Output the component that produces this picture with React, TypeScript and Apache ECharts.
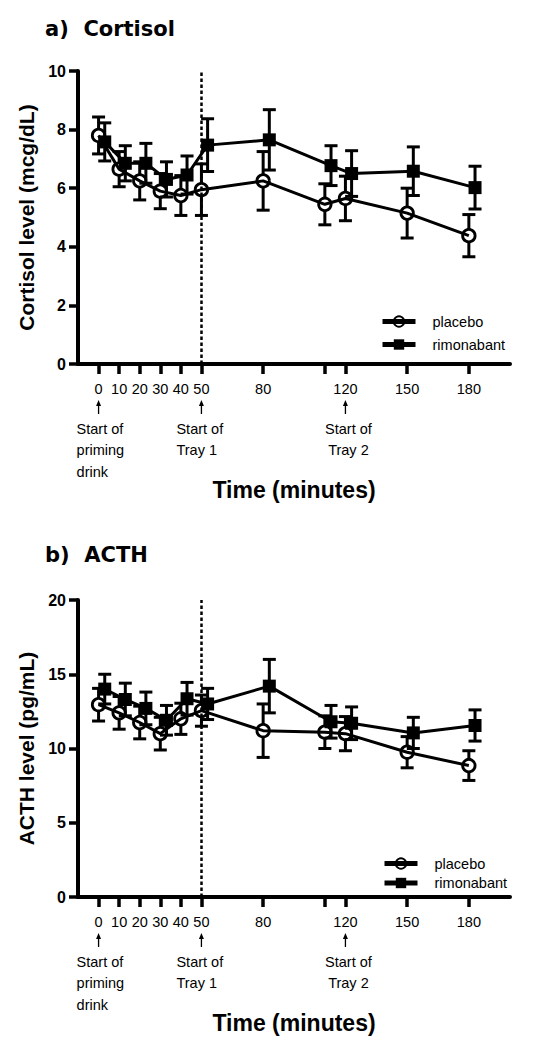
import React, { useEffect, useRef } from "react";
import * as echarts from "echarts";

// ---- data ----
const times = [0, 10, 20, 30, 40, 50, 80, 110, 120, 150, 180];
const tickTimes = [0, 10, 20, 30, 40, 50, 80, 110, 120, 150, 180];
const unlabeledTicks = [110];
const seriesNames = ["placebo", "rimonabant"];

const cortisolPlacebo = [7.8, 6.65, 6.25, 5.9, 5.75, 5.95, 6.25, 5.45, 5.65, 5.15, 4.38];
const cortisolPlaceboErr = [0.63, 0.6, 0.65, 0.6, 0.68, 0.88, 1.0, 0.7, 0.76, 0.85, 0.72];
const cortisolRimonabant = [7.58, 6.85, 6.85, 6.3, 6.45, 7.47, 7.65, 6.77, 6.5, 6.58, 6.02];
const cortisolRimonabantErr = [0.65, 0.6, 0.68, 0.6, 0.65, 0.9, 1.03, 0.68, 0.78, 0.83, 0.73];

const acthPlacebo = [12.95, 12.4, 11.75, 11.0, 12.0, 12.55, 11.2, 11.1, 11.0, 9.75, 8.85];
const acthPlaceboErr = [1.1, 1.1, 1.1, 1.1, 1.05, 1.05, 1.8, 1.1, 1.15, 1.05, 1.0];
const acthRimonabant = [14.0, 13.3, 12.7, 11.9, 13.35, 13.0, 14.2, 11.8, 11.7, 11.05, 11.55];
const acthRimonabantErr = [1.0, 1.1, 1.1, 1.0, 1.1, 1.05, 1.8, 1.1, 1.1, 1.05, 1.05];

const panelTitles = ["a)  Cortisol", "b)  ACTH"];
const yTitles = ["Cortisol level (mcg/dL)", "ACTH level (pg/mL)"];
const xTitle = "Time (minutes)";
const dividerTime = 50;
const events = [
  { time: 0, lines: ["Start of", "priming", "drink"], align: "left" },
  { time: 50, lines: ["Start of", "Tray 1"], align: "left" },
  { time: 120, lines: ["Start of", "Tray 2"], align: "center" },
];
// display offset (minutes) so overlapping groups can be seen, as in the figure
const groupOffset = [0, 3];

const FONT = '"Liberation Sans", Arial, Helvetica, sans-serif';
const TITLE_FONT = '"DejaVu Sans", "Liberation Sans", Arial, sans-serif';

export default function App() {
  const ref = useRef<HTMLDivElement>(null);

  useEffect(() => {
    if (!ref.current) return;
    const chart = echarts.init(ref.current, null, { renderer: "svg" });

    const panels = [
      {
        top: 71, height: 293, yMax: 10, yInterval: 2,
        groups: [
          { v: cortisolPlacebo, e: cortisolPlaceboErr },
          { v: cortisolRimonabant, e: cortisolRimonabantErr },
        ],
        legendTop: 314, legendGap: 8, legendLeft: 380,
      },
      {
        top: 600, height: 297, yMax: 20, yInterval: 5,
        groups: [
          { v: acthPlacebo, e: acthPlaceboErr },
          { v: acthRimonabant, e: acthRimonabantErr },
        ],
        legendTop: 856, legendGap: 4.5, legendLeft: 382,
      },
    ];

    const grids: any[] = [];
    const xAxes: any[] = [];
    const yAxes: any[] = [];
    const series: any[] = [];
    const legends: any[] = [];

    panels.forEach((p, pi) => {
      grids.push({ left: 78, top: p.top, width: 432, height: p.height });
      xAxes.push({
        type: "value", gridIndex: pi, min: -10, max: 200,
        axisLine: { show: true, onZero: false, lineStyle: { color: "#000", width: 4 } },
        axisTick: { show: true, customValues: tickTimes, length: 10, lineStyle: { color: "#000", width: 3.5 } },
        axisLabel: {
          customValues: tickTimes, margin: 17, color: "#000", fontSize: 14.5, fontFamily: FONT,
          formatter: (v: number) => (unlabeledTicks.includes(v) ? "" : String(v)),
        },
        splitLine: { show: false },
      });
      yAxes.push({
        type: "value", gridIndex: pi, min: 0, max: p.yMax, interval: p.yInterval,
        name: yTitles[pi], nameLocation: "middle", nameGap: 41,
        nameTextStyle: { color: "#000", fontSize: 21, fontWeight: "bold", fontFamily: FONT },
        axisLine: { show: true, onZero: false, lineStyle: { color: "#000", width: 4 } },
        axisTick: { show: true, length: 9, lineStyle: { color: "#000", width: 3.5 } },
        axisLabel: { margin: 12, color: "#000", fontSize: 16, fontWeight: "bold", fontFamily: FONT },
        splitLine: { show: false },
      });

      p.groups.forEach((g, gi) => {
        const off = groupOffset[gi];
        const isCircle = gi === 0;
        const r = isCircle ? 6.5 : 0;
        series.push({
          type: "custom", name: seriesNames[gi] + " err", xAxisIndex: pi, yAxisIndex: pi,
          silent: true, z: 1,
          data: times.map((t, i) => [t + off, g.v[i], g.e[i]]),
          renderItem: (params: any, api: any) => {
            const x = api.value(0), y = api.value(1), e = api.value(2);
            const c = api.coord([x, y]);
            const hi = api.coord([x, y + e]);
            const lo = api.coord([x, y - e]);
            const cw = 6.5;
            const st = { stroke: "#000", lineWidth: 3 };
            return {
              type: "group",
              children: [
                { type: "line", shape: { x1: c[0], y1: hi[1], x2: c[0], y2: c[1] - r }, style: st },
                { type: "line", shape: { x1: c[0], y1: c[1] + r, x2: c[0], y2: lo[1] }, style: st },
                { type: "line", shape: { x1: c[0] - cw, y1: hi[1], x2: c[0] + cw, y2: hi[1] }, style: st },
                { type: "line", shape: { x1: c[0] - cw, y1: lo[1], x2: c[0] + cw, y2: lo[1] }, style: st },
              ],
            };
          },
        });
        const lineSeries: any = {
          type: "line", name: seriesNames[gi], xAxisIndex: pi, yAxisIndex: pi, z: 3,
          data: times.map((t, i) => [t + off, g.v[i]]),
          symbol: isCircle ? "circle" : "rect",
          symbolSize: isCircle ? 12.5 : 13,
          showAllSymbol: true,
          lineStyle: { color: "#000", width: 3 },
          itemStyle: isCircle
            ? { color: "rgba(255,255,255,0)", borderColor: "#000", borderWidth: 2.8 }
            : { color: "#000", borderColor: "#000", borderWidth: 0 },
          emphasis: { disabled: true },
          silent: true,
        };
        if (gi === 0) {
          lineSeries.markLine = {
            silent: true, symbol: "none", label: { show: false },
            lineStyle: { color: "#000", width: 2.5, type: [3.5, 2.5] },
            data: [[{ coord: [dividerTime, 0] }, { coord: [dividerTime, p.yMax] }]],
          };
        }
        series.push(lineSeries);
      });

      legends.push({
        data: seriesNames, orient: "vertical", left: p.legendLeft, top: p.legendTop,
        itemWidth: 33, itemHeight: 13, itemGap: p.legendGap, padding: 0,
        selectedMode: false,
        lineStyle: { color: "#000", width: 5 },
        textStyle: { color: "#000", fontSize: 14.5, fontFamily: FONT, padding: [0, 0, 0, 12] },
      });
    });

    chart.setOption({
      animation: false,
      backgroundColor: "#fff",
      grid: grids,
      xAxis: xAxes,
      yAxis: yAxes,
      legend: legends,
      series,
    });

    // annotations positioned from the axes
    const graphic: any[] = [];
    panels.forEach((p, pi) => {
      const axisY = p.top + p.height;
      graphic.push({
        type: "text", x: 45, y: p.top - (pi === 0 ? 42 : 45),
        style: { text: panelTitles[pi], fill: "#000", font: `bold 21px ${TITLE_FONT}`, verticalAlign: "middle" },
      });
      const cx = chart.convertToPixel({ xAxisIndex: pi }, 95) as number;
      graphic.push({
        type: "text", x: cx, y: axisY + 126,
        style: { text: xTitle, fill: "#000", font: `bold 23px ${FONT}`, align: "center", verticalAlign: "middle" },
      });
      events.forEach((ev) => {
        const ax = chart.convertToPixel({ xAxisIndex: pi }, ev.time) as number;
        const y0 = axisY + 37, y1 = axisY + 50;
        graphic.push({ type: "line", shape: { x1: ax, y1: y0 + 3, x2: ax, y2: y1 }, style: { stroke: "#000", lineWidth: 1.3 } });
        graphic.push({ type: "polygon", shape: { points: [[ax, y0 - 1], [ax - 2.5, y0 + 5], [ax + 2.5, y0 + 5]] }, style: { fill: "#000" } });
        ev.lines.forEach((ln, li) => {
          const isCenter = ev.align === "center";
          graphic.push({
            type: "text",
            x: isCenter ? ax + 3 : ax - (ev.time === 0 ? 22 : 25),
            y: axisY + 65 + li * 21.3,
            style: { text: ln, fill: "#000", font: `14.5px ${FONT}`, align: isCenter ? "center" : "left", verticalAlign: "middle" },
          });
        });
      });
    });
    chart.setOption({ graphic });

    return () => chart.dispose();
  }, []);

  return <div ref={ref} style={{ position: "absolute", left: 0, top: 0, width: 541, height: 1050, background: "#fff" }} />;
}
